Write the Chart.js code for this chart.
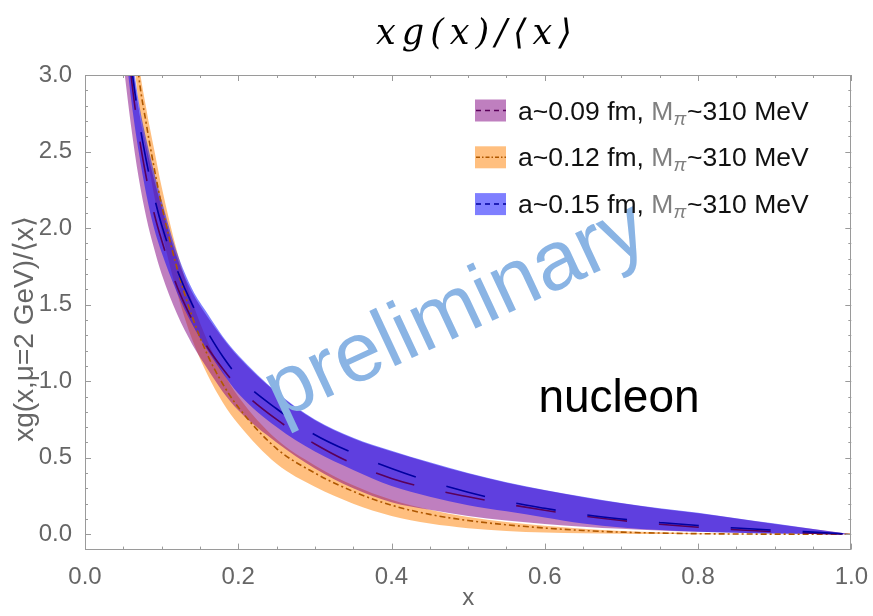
<!DOCTYPE html>
<html><head><meta charset="utf-8">
<script src="https://cdn.jsdelivr.net/npm/chart.js@4.4.1/dist/chart.umd.min.js"></script>
<style>html,body{margin:0;padding:0;background:#fff;}#wrap{width:873px;height:616px;}</style>
</head><body><div id="wrap"><canvas id="c" width="873" height="616"></canvas></div>
<script>
// ---- data ----
const xValues = [0.05,0.06,0.07,0.08,0.09,0.10,0.12,0.14,0.16,0.18,0.20,0.25,0.30,0.35,0.40,0.45,0.50,0.55,0.60,0.65,0.70,0.75,0.80,0.85,0.90,0.95,1.00];

// a~0.09 fm (purple)
const purpleCenter = [3.50,3.00,2.62,2.33,2.10,1.92,1.62,1.40,1.22,1.08,0.96,0.75,0.59,0.46,0.365,0.297,0.245,0.198,0.157,0.12,0.09,0.066,0.046,0.03,0.017,0.007,0];
const purpleUpper  = [3.70,3.15,2.78,2.53,2.32,2.14,1.81,1.58,1.42,1.28,1.16,0.925,0.745,0.625,0.54,0.466,0.397,0.337,0.287,0.242,0.202,0.167,0.137,0.103,0.068,0.034,0];
const purpleLower  = [3.08,2.67,2.33,2.07,1.87,1.70,1.44,1.24,1.08,0.93,0.81,0.60,0.43,0.30,0.21,0.16,0.12,0.09,0.068,0.05,0.036,0.025,0.016,0.01,0.005,0.002,0];

// a~0.12 fm (orange)
const orangeCenter = [4.30,3.55,3.00,2.68,2.40,2.15,1.74,1.42,1.17,0.98,0.83,0.56,0.40,0.28,0.19,0.13,0.09,0.062,0.041,0.025,0.014,0.008,0.004,0.002,0.001,0.0005,0];
const orangeUpper  = [4.50,3.72,3.10,2.78,2.52,2.27,1.85,1.52,1.26,1.06,0.90,0.62,0.45,0.32,0.225,0.16,0.113,0.08,0.055,0.036,0.022,0.013,0.007,0.004,0.002,0.001,0];
const orangeLower  = [4.00,3.30,2.82,2.50,2.22,1.98,1.58,1.27,1.04,0.86,0.72,0.46,0.31,0.20,0.12,0.07,0.04,0.022,0.012,0.006,0.003,0.0015,0.001,0.0005,0,0,0];

// a~0.15 fm (blue)
const blueCenter = [3.56,3.08,2.72,2.44,2.21,2.02,1.73,1.50,1.32,1.16,1.03,0.82,0.65,0.53,0.43,0.345,0.275,0.215,0.17,0.13,0.10,0.077,0.057,0.041,0.027,0.014,0];
const blueUpper  = [3.75,3.20,2.83,2.58,2.37,2.18,1.84,1.60,1.44,1.29,1.17,0.93,0.75,0.63,0.545,0.47,0.40,0.34,0.29,0.245,0.205,0.17,0.14,0.105,0.07,0.035,0];
const blueLower  = [3.30,2.85,2.50,2.22,2.00,1.84,1.58,1.37,1.20,1.05,0.92,0.70,0.54,0.42,0.315,0.245,0.19,0.15,0.11,0.07,0.045,0.028,0.017,0.01,0.005,0.002,0];

const seriesNames = ['a~0.09 fm, ', 'a~0.12 fm, ', 'a~0.15 fm, '];
const massPart = ['M', 'π', '~310 MeV'];
const xTickValues = [0, 0.2, 0.4, 0.6, 0.8, 1.0];
const xTickLabels = ['0.0','0.2','0.4','0.6','0.8','1.0'];
const yTickValues = [0, 0.5, 1.0, 1.5, 2.0, 2.5, 3.0];
const yTickLabels = ['0.0','0.5','1.0','1.5','2.0','2.5','3.0'];
const titleText = 'xg(x)/⟨x⟩';
const yAxisTitle = 'xg(x,μ=2 GeV)/⟨x⟩';
const xAxisTitle = 'x';
const noteText = 'nucleon';
const watermarkText = 'preliminary';

// ---- styles ----
const COL = {
  purpleFill: 'rgba(128,0,128,0.5)', purpleLine: 'rgb(90,0,90)',
  orangeFill: 'rgba(255,128,0,0.5)', orangeLine: 'rgb(175,88,0)',
  blueFill: 'rgba(0,0,255,0.5)', blueLine: 'rgb(0,0,160)'
};
const SANS = '"Liberation Sans", Arial, sans-serif';

function pts(arr){ return xValues.map((x,i)=>({x:x, y:arr[i]})); }
function band(name, upper, lower, fill, order){
  return [
    {label:name+' band', data:pts(upper), fill:'+1', backgroundColor:fill, borderColor:'rgba(0,0,0,0)', borderWidth:0, pointRadius:0, order:order, cubicInterpolationMode:'monotone'},
    {label:name+' lower', data:pts(lower), fill:false, borderColor:'rgba(0,0,0,0)', borderWidth:0, pointRadius:0, order:order-1, cubicInterpolationMode:'monotone'}
  ];
}
function line(name, arr, color, dash, order){
  return {label:name, data:pts(arr), fill:false, borderColor:color, borderWidth:1.6, borderDash:dash, pointRadius:0, order:order, cubicInterpolationMode:'monotone'};
}

const datasets = [].concat(
  band('a012', orangeUpper, orangeLower, COL.orangeFill, 100),
  band('a009', purpleUpper, purpleLower, COL.purpleFill, 90),
  band('a015', blueUpper, blueLower, COL.blueFill, 80),
  [line('a012 mean', orangeCenter, COL.orangeLine, [6,3,2,3], 3),
   line('a009 mean', purpleCenter, COL.purpleLine, [40,32], 2),
   line('a015 mean', blueCenter, COL.blueLine, [40,32], 1)]
);

const decor = {
  id:'decor',
  afterDraw(chart){
    const ctx = chart.ctx, a = chart.chartArea, xs = chart.scales.x, ys = chart.scales.y;
    ctx.save();
    // frame
    ctx.strokeStyle = '#9a9a9a'; ctx.lineWidth = 1; ctx.setLineDash([]);
    ctx.strokeRect(Math.round(a.left)+0.5, Math.round(a.top)+0.5, Math.round(a.right-a.left)-1, Math.round(a.bottom-a.top)-1);
    ctx.beginPath();
    for (let i=0;i<=20;i++){
      const v = i*0.05, px = Math.round(xs.getPixelForValue(v))+0.5, len = (i%4===0)?6:3;
      ctx.moveTo(px, a.bottom); ctx.lineTo(px, a.bottom-len);
      ctx.moveTo(px, a.top); ctx.lineTo(px, a.top+len);
    }
    for (let i=0;i<=30;i++){
      const v = i*0.1, py = Math.round(ys.getPixelForValue(v))+0.5, len = (i%5===0)?6:3;
      ctx.moveTo(a.left, py); ctx.lineTo(a.left+len, py);
      ctx.moveTo(a.right, py); ctx.lineTo(a.right-len, py);
    }
    ctx.stroke();

    // y axis title
    ctx.save();
    ctx.translate(25, 329); ctx.rotate(-Math.PI/2);
    ctx.font = '28px '+SANS; ctx.fillStyle = '#666';
    ctx.textAlign = 'center'; ctx.textBaseline = 'middle';
    ctx.fillText(yAxisTitle, 0, 0);
    ctx.restore();

    // watermark
    ctx.save();
    ctx.translate(466, 333); ctx.rotate(-25*Math.PI/180);
    ctx.font = '84px '+SANS; ctx.fillStyle = 'rgb(138,180,228)';
    ctx.textAlign = 'center'; ctx.textBaseline = 'alphabetic';
    ctx.fillText(watermarkText, 0, 0);
    ctx.restore();

    // note
    ctx.font = '46px '+SANS; ctx.fillStyle = '#000'; ctx.textAlign='center'; ctx.textBaseline='alphabetic';
    ctx.fillText(noteText, 619, 412);

    // legend
    const rows = [
      {fill:COL.purpleFill, line:COL.purpleLine, dash:[5,4]},
      {fill:COL.orangeFill, line:COL.orangeLine, dash:[4,2,1.5,2]},
      {fill:COL.blueFill, line:COL.blueLine, dash:[5,4]}
    ];
    rows.forEach((r,i)=>{
      const cy = 110.5 + i*46.8;
      ctx.fillStyle = r.fill; ctx.fillRect(475, cy-11, 31, 22);
      ctx.strokeStyle = r.line; ctx.lineWidth = 1.5; ctx.setLineDash(r.dash);
      ctx.beginPath(); ctx.moveTo(476, cy); ctx.lineTo(506, cy); ctx.stroke();
      ctx.setLineDash([]);
      ctx.textAlign = 'left'; ctx.textBaseline = 'alphabetic';
      let x = 518; const base = cy + 9;
      ctx.font = '26.5px '+SANS; ctx.fillStyle = '#111';
      ctx.fillText(seriesNames[i], x, base); x += ctx.measureText(seriesNames[i]).width;
      ctx.fillStyle = '#808080';
      ctx.fillText(massPart[0], x, base); x += ctx.measureText(massPart[0]).width;
      ctx.font = 'italic 19px '+SANS;
      ctx.fillText(massPart[1], x, base+5); x += ctx.measureText(massPart[1]).width + 1;
      ctx.font = '26.5px '+SANS; ctx.fillStyle = '#111';
      ctx.fillText(massPart[2], x, base);
    });

    // title
    ctx.font = 'italic 35px "DejaVu Serif", serif'; ctx.fillStyle = '#000';
    ctx.textAlign = 'center'; ctx.textBaseline = 'alphabetic';
    ctx.letterSpacing = '6px';
    ctx.fillText(titleText, 477, 44);
    ctx.letterSpacing = '0px';
    ctx.restore();
  }
};

new Chart(document.getElementById('c'), {
  type:'line',
  data:{datasets:datasets},
  options:{
    responsive:false, animation:false, devicePixelRatio:1, events:[],
    layout:{padding:{top:75, right:20, left:0, bottom:0}},
    plugins:{legend:{display:false}, tooltip:{enabled:false}, title:{display:false}},
    scales:{
      x:{type:'linear', min:0, max:1,
        grid:{display:false}, border:{display:false},
        afterBuildTicks:(s)=>{ s.ticks = xTickValues.map(v=>({value:v})); },
        afterFit:(s)=>{ s.height = 66.4; },
        ticks:{color:'#666', font:{family:SANS, size:24}, padding:5, maxRotation:0, autoSkip:false,
          callback:(v)=>{ const i = xTickValues.findIndex(t=>Math.abs(t-v)<1e-9); return i>=0?xTickLabels[i]:''; }},
        title:{display:true, text:xAxisTitle, color:'#666', font:{family:SANS, size:24}, padding:{top:0, bottom:3}}
      },
      y:{type:'linear', min:-0.1, max:3.0,
        grid:{display:false}, border:{display:false},
        afterBuildTicks:(s)=>{ s.ticks = yTickValues.map(v=>({value:v})); },
        afterFit:(s)=>{ s.width = 85; },
        ticks:{color:'#666', font:{family:SANS, size:24}, padding:5, autoSkip:false,
          callback:(v)=>{ const i = yTickValues.findIndex(t=>Math.abs(t-v)<1e-9); return i>=0?yTickLabels[i]:''; }},
        title:{display:false}
      }
    }
  },
  plugins:[decor]
});
</script></body></html>
